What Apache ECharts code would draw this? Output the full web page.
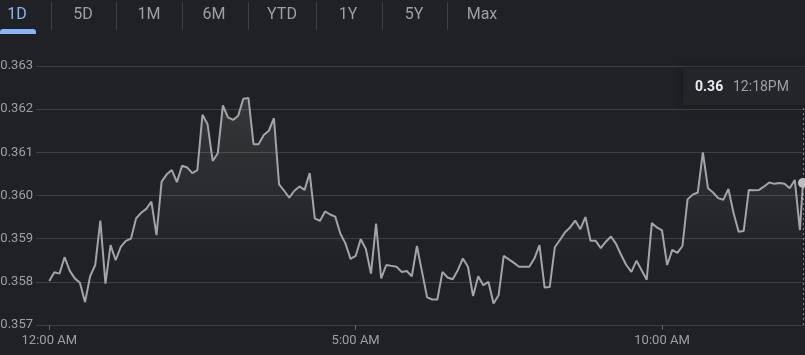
<!DOCTYPE html>
<html>
<head>
<meta charset="utf-8">
<script src="https://cdn.jsdelivr.net/npm/echarts@6/dist/echarts.min.js"></script>
<style>
html,body{margin:0;padding:0;background:#202124;}
#chart{width:805px;height:355px;}
</style>
</head>
<body>
<div id="chart"></div>
<script>
// minutes after midnight
var minutes = [
0,5,10,15,20,25,30,35,40,45,50,55,
60,65,70,75,80,85,90,95,100,105,110,115,
120,125,130,135,140,145,150,155,160,165,170,175,
180,185,190,195,200,205,210,215,220,225,230,235,
240,245,250,255,260,265,270,275,280,285,290,295,
300,305,310,315,320,325,330,335,340,345,350,355,
360,365,370,375,380,385,390,395,400,405,410,415,
420,425,430,435,440,445,450,455,460,465,470,475,
480,485,490,495,500,505,510,515,520,525,530,535,
540,545,550,555,560,565,570,575,580,585,590,595,
600,605,610,615,620,625,630,635,640,645,650,655,
660,665,670,675,680,685,690,695,700,705,710,715,
720,725,730,735,738
];
var prices = [
0.35802,0.35822,0.35819,0.35857,0.35826,0.35808,0.35798,0.35753,0.35813,0.35839,
0.35942,0.35796,0.35885,0.35850,0.35881,0.35895,0.35900,0.35947,0.35960,0.35969,
0.35986,0.35908,0.36032,0.36049,0.36059,0.36031,0.36069,0.36065,0.36052,0.36059,
0.36187,0.36165,0.36080,0.36098,0.36209,0.36181,0.36175,0.36185,0.36224,0.36226,
0.36119,0.36119,0.36140,0.36150,0.36179,0.36026,0.36011,0.35995,0.36011,0.36021,
0.36013,0.36052,0.35947,0.35941,0.35963,0.35956,0.35951,0.35912,0.35889,0.35853,
0.35860,0.35899,0.35876,0.35819,0.35935,0.35808,0.35839,0.35837,0.35835,0.35823,
0.35825,0.35813,0.35883,0.35823,0.35764,0.35759,0.35759,0.35823,0.35810,0.35806,
0.35827,0.35854,0.35835,0.35767,0.35813,0.35792,0.35800,0.35750,0.35769,0.35860,
0.35852,0.35844,0.35835,0.35835,0.35835,0.35854,0.35885,0.35787,0.35788,0.35880,
0.35897,0.35915,0.35926,0.35942,0.35922,0.35950,0.35895,0.35895,0.35878,0.35893,
0.35905,0.35888,0.35862,0.35839,0.35823,0.35849,0.35827,0.35805,0.35936,0.35926,
0.35919,0.35839,0.35874,0.35867,0.35883,0.35991,0.36002,0.36007,0.36100,0.36017,
0.36007,0.35994,0.35990,0.36015,0.35960,0.35916,0.35918,0.36013,0.36012,0.36013,
0.36021,0.36030,0.36027,0.36029,0.36027,0.36017,0.36036,0.35920,0.36029
];
var xTickValues = [0, 300, 600];
var xTickLabels = ["12:00 AM", "5:00 AM", "10:00 AM"];
var tabs = ["1D", "5D", "1M", "6M", "YTD", "1Y", "5Y", "Max"];
var tabCenters = [17, 83, 149, 214, 282, 348, 414, 482];
var tabSeparators = [51, 116, 182, 248, 316, 382, 447];
var lastPriceText = "0.36";
var lastTimeText = "12:18PM";

var chart = echarts.init(document.getElementById('chart'), null, {renderer: 'canvas'});
var seriesData = minutes.map(function (m, i) { return [m, prices[i]]; });
var lastIdx = minutes.length - 1;

var graphics = [];
tabs.forEach(function (t, i) {
  graphics.push({
    type: 'text', x: tabCenters[i], y: 15,
    style: {
      text: t, fill: i === 0 ? '#8ab4f8' : '#9aa0a6',
      font: '16px Roboto', textAlign: 'center', textVerticalAlign: 'middle'
    }
  });
});
tabSeparators.forEach(function (x) {
  graphics.push({
    type: 'rect', shape: {x: x, y: 2, width: 1, height: 28},
    style: {fill: '#3c4043'}
  });
});
graphics.push({
  type: 'rect', shape: {x: 0, y: 29, width: 36, height: 5, r: [3, 3, 0, 0]},
  style: {fill: '#8ab4f8'}
});
graphics.push({
  type: 'rect', shape: {x: 683, y: 68, width: 122, height: 37, r: 2},
  style: {fill: '#242528', shadowBlur: 10, shadowColor: 'rgba(0,0,0,0.3)'},
  z: 10
});
graphics.push({
  type: 'text', x: 695, y: 87, z: 11,
  style: {text: lastPriceText, fill: '#e8eaed', font: 'bold 14px Roboto', textVerticalAlign: 'middle'}
});
graphics.push({
  type: 'text', x: 733, y: 87, z: 11,
  style: {text: lastTimeText, fill: '#9aa0a6', font: '14px Roboto', textVerticalAlign: 'middle'}
});

chart.setOption({
  backgroundColor: '#202124',
  animation: false,
  grid: {left: 36, right: 0, top: 66, height: 259, containLabel: false, outerBoundsMode: 'none'},
  xAxis: {
    type: 'value', min: -13, max: 740,
    axisLine: {show: false},
    splitLine: {show: false},
    axisTick: {show: true, customValues: xTickValues, length: 5, lineStyle: {color: '#5f6368'}},
    axisLabel: {
      customValues: xTickValues, color: '#9aa0a6', fontSize: 13, fontFamily: 'Roboto', margin: 9,
      formatter: function (v) { var i = xTickValues.indexOf(v); return i >= 0 ? xTickLabels[i] : ''; }
    }
  },
  yAxis: {
    type: 'value', min: 0.357, max: 0.363, interval: 0.001,
    axisLine: {show: false}, axisTick: {show: false},
    splitLine: {lineStyle: {color: '#3c4043', width: 1}},
    axisLabel: {
      color: '#9aa0a6', fontSize: 13, fontFamily: 'Roboto', margin: 3,
      formatter: function (v) { return v.toFixed(3); }
    }
  },
  series: [{
    type: 'line',
    data: seriesData,
    showSymbol: false,
    lineStyle: {color: '#a2a4a8', width: 2},
    itemStyle: {color: '#a2a4a8'},
    areaStyle: {
      color: new echarts.graphic.LinearGradient(0, 0, 0, 1, [
        {offset: 0, color: 'rgba(255,255,255,0.14)'},
        {offset: 0.75, color: 'rgba(255,255,255,0)'}
      ])
    },
    markLine: {
      silent: true, symbol: 'none', label: {show: false},
      lineStyle: {color: '#80868b', type: [2, 3], width: 1},
      data: [{xAxis: minutes[lastIdx]}]
    },
    markPoint: {
      symbol: 'circle', symbolSize: 10, label: {show: false},
      itemStyle: {color: '#bdbdbd'},
      data: [{coord: [minutes[lastIdx], prices[lastIdx]]}]
    }
  }],
  graphic: graphics
});
</script>
</body>
</html>
